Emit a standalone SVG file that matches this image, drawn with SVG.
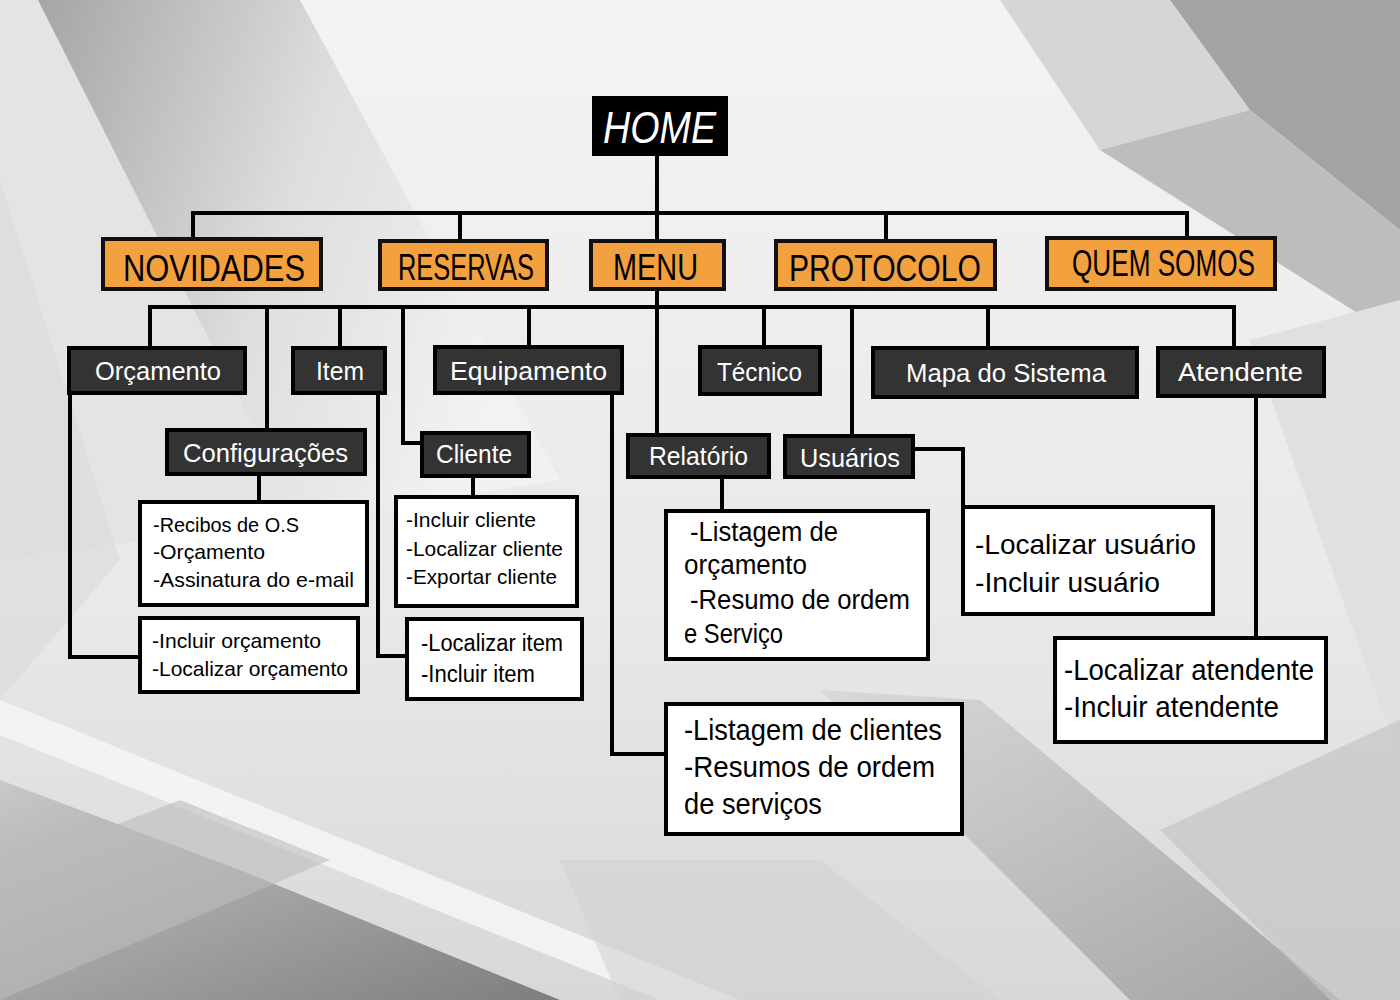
<svg xmlns="http://www.w3.org/2000/svg" width="1400" height="1000" viewBox="0 0 1400 1000">
<defs>
<linearGradient id="bg" x1="0" y1="0" x2="0" y2="1">
<stop offset="0" stop-color="#f3f3f3"/>
<stop offset="0.6" stop-color="#e9e9e9"/>
<stop offset="1" stop-color="#d8d8d8"/>
</linearGradient>
<linearGradient id="tlband" x1="0" y1="0" x2="1" y2="0.35">
<stop offset="0" stop-color="#9c9c9c"/>
<stop offset="0.55" stop-color="#dcdcdc"/>
<stop offset="1" stop-color="#f2f2f2"/>
</linearGradient>
<linearGradient id="blband" x1="0" y1="0" x2="1" y2="1">
<stop offset="0" stop-color="#c4c4c4"/>
<stop offset="1" stop-color="#6e6e6e"/>
</linearGradient>
<linearGradient id="brband" x1="0" y1="0" x2="1" y2="1">
<stop offset="0" stop-color="#d4d4d4"/>
<stop offset="1" stop-color="#8e8e8e"/>
</linearGradient>
<style>
.orange{fill:#f3a03f;stroke:#111;stroke-width:4}
.dark{fill:#333333;stroke:#000;stroke-width:4}
.white{fill:#ffffff;stroke:#000;stroke-width:4}
.home{fill:#000;stroke:#000;stroke-width:2}
.tO{font-family:"Liberation Sans Narrow","Liberation Sans",Arial,sans-serif;font-size:36px;fill:#000}
.tD{font-family:"Liberation Sans",Arial,sans-serif;font-size:26px;fill:#fff}
.tW{font-family:"Liberation Sans",Arial,sans-serif;fill:#000}
.tH{font-family:"Liberation Sans",Arial,sans-serif;font-size:44px;font-style:italic;fill:#fff}
.ln{fill:none;stroke:#000;stroke-width:4;stroke-linejoin:miter;stroke-linecap:square}
</style>
</defs>
<g id="background">
<rect x="0" y="0" width="1400" height="1000" fill="url(#bg)"/>
<polygon points="0,0 38,0 300,520 0,560" fill="#e4e4e4"/>
<polygon points="38,0 300,0 560,480 300,520" fill="url(#tlband)" opacity="0.9"/>
<polygon points="0,180 120,560 0,700" fill="#dcdcdc" opacity="0.7"/>
<polygon points="1000,0 1170,0 1250,110 1100,150" fill="#d6d6d6"/>
<polygon points="1170,0 1400,0 1400,230 1250,110" fill="#a3a3a3"/>
<polygon points="1100,150 1250,110 1400,230 1400,340" fill="#bdbdbd"/>
<polygon points="1250,340 1400,300 1400,760" fill="#e0e0e0"/>
<polygon points="0,780 240,870 560,1000 0,1000" fill="url(#blband)" opacity="0.85"/>
<polygon points="0,700 0,735 660,1000 740,1000" fill="#f6f6f6" opacity="0.85"/>
<polygon points="0,870 180,800 330,860 0,1000" fill="#bcbcbc" opacity="0.6"/>
<polygon points="820,690 980,700 1340,1000 1130,1000" fill="url(#brband)" opacity="0.7"/>
<polygon points="1160,830 1400,720 1400,1000 1330,1000" fill="#c4c4c4" opacity="0.7"/>
<polygon points="560,860 820,860 1000,1000 620,1000" fill="#d2d2d2" opacity="0.6"/>
</g>
<g id="connectors">
<line class="ln" x1="657" y1="155" x2="657" y2="435"/>
<polyline class="ln" points="193,239 193,213 1187,213 1187,238"/>
<line class="ln" x1="460" y1="213" x2="460" y2="241"/>
<line class="ln" x1="886" y1="213" x2="886" y2="241"/>
<polyline class="ln" points="150,348 150,307 1234,307 1234,348"/>
<line class="ln" x1="267" y1="307" x2="267" y2="430"/>
<line class="ln" x1="340" y1="307" x2="340" y2="348"/>
<polyline class="ln" points="403,307 403,443 422,443"/>
<line class="ln" x1="529" y1="307" x2="529" y2="347"/>
<line class="ln" x1="764" y1="307" x2="764" y2="347"/>
<line class="ln" x1="852" y1="307" x2="852" y2="436"/>
<line class="ln" x1="988" y1="307" x2="988" y2="348"/>
<polyline class="ln" points="70,393 70,657 140,657"/>
<line class="ln" x1="259" y1="474" x2="259" y2="502"/>
<polyline class="ln" points="378,393 378,656 407,656"/>
<line class="ln" x1="473" y1="476" x2="473" y2="497"/>
<polyline class="ln" points="612,393 612,754 666,754"/>
<line class="ln" x1="722" y1="477" x2="722" y2="511"/>
<polyline class="ln" points="913,449 963,449 963,507"/>
<line class="ln" x1="1256" y1="396" x2="1256" y2="638"/>
</g>
<g id="home">
<rect class="home" x="593" y="97" width="134" height="58"/>
<text class="tH" x="603" y="143" textLength="113" lengthAdjust="spacingAndGlyphs">HOME</text>
</g>
<g id="novidades">
<rect class="orange" x="103" y="239" width="218" height="50"/>
<text class="tO" x="123" y="281" textLength="182" lengthAdjust="spacingAndGlyphs">NOVIDADES</text>
</g>
<g id="reservas">
<rect class="orange" x="380" y="241" width="167" height="48"/>
<text class="tO" x="398" y="280" textLength="136" lengthAdjust="spacingAndGlyphs">RESERVAS</text>
</g>
<g id="menu">
<rect class="orange" x="591" y="241" width="133" height="48"/>
<text class="tO" x="613" y="280" textLength="85" lengthAdjust="spacingAndGlyphs">MENU</text>
</g>
<g id="protocolo">
<rect class="orange" x="776" y="241" width="219" height="48"/>
<text class="tO" x="789" y="281" textLength="192" lengthAdjust="spacingAndGlyphs">PROTOCOLO</text>
</g>
<g id="quem-somos">
<rect class="orange" x="1047" y="238" width="228" height="51"/>
<text class="tO" x="1072" y="276" font-size="33" textLength="183" lengthAdjust="spacingAndGlyphs">QUEM SOMOS</text>
</g>
<g id="orcamento">
<rect class="dark" x="69" y="348" width="176" height="45"/>
<text class="tD" x="95" y="380" textLength="126" lengthAdjust="spacingAndGlyphs">Orçamento</text>
</g>
<g id="item">
<rect class="dark" x="293" y="348" width="92" height="45"/>
<text class="tD" x="316" y="380" textLength="48" lengthAdjust="spacingAndGlyphs">Item</text>
</g>
<g id="equipamento">
<rect class="dark" x="435" y="347" width="187" height="46"/>
<text class="tD" x="450" y="380" textLength="157" lengthAdjust="spacingAndGlyphs">Equipamento</text>
</g>
<g id="tecnico">
<rect class="dark" x="700" y="347" width="120" height="47"/>
<text class="tD" x="717" y="381" textLength="85" lengthAdjust="spacingAndGlyphs">Técnico</text>
</g>
<g id="mapa">
<rect class="dark" x="873" y="348" width="264" height="49"/>
<text class="tD" x="906" y="382" textLength="200" lengthAdjust="spacingAndGlyphs">Mapa do Sistema</text>
</g>
<g id="atendente">
<rect class="dark" x="1158" y="348" width="166" height="48"/>
<text class="tD" x="1178" y="381" textLength="125" lengthAdjust="spacingAndGlyphs">Atendente</text>
</g>
<g id="configuracoes">
<rect class="dark" x="167" y="430" width="198" height="44"/>
<text class="tD" x="183" y="462" textLength="165" lengthAdjust="spacingAndGlyphs">Configurações</text>
</g>
<g id="cliente">
<rect class="dark" x="422" y="433" width="107" height="43"/>
<text class="tD" x="436" y="463" textLength="76" lengthAdjust="spacingAndGlyphs">Cliente</text>
</g>
<g id="relatorio">
<rect class="dark" x="628" y="435" width="141" height="42"/>
<text class="tD" x="649" y="465" textLength="99" lengthAdjust="spacingAndGlyphs">Relatório</text>
</g>
<g id="usuarios">
<rect class="dark" x="785" y="436" width="128" height="41"/>
<text class="tD" x="800" y="467" textLength="100" lengthAdjust="spacingAndGlyphs">Usuários</text>
</g>
<g id="config-list">
<rect class="white" x="140" y="502" width="227" height="103"/>
<text class="tW" font-size="21"><tspan x="153" y="532" textLength="146" lengthAdjust="spacingAndGlyphs">-Recibos de O.S</tspan><tspan x="153" y="559" textLength="112" lengthAdjust="spacingAndGlyphs">-Orçamento</tspan><tspan x="153" y="587" textLength="201" lengthAdjust="spacingAndGlyphs">-Assinatura do e-mail</tspan></text>
</g>
<g id="orcamento-list">
<rect class="white" x="140" y="618" width="218" height="74"/>
<text class="tW" font-size="21"><tspan x="152" y="648" textLength="169" lengthAdjust="spacingAndGlyphs">-Incluir orçamento</tspan><tspan x="152" y="676" textLength="196" lengthAdjust="spacingAndGlyphs">-Localizar orçamento</tspan></text>
</g>
<g id="cliente-list">
<rect class="white" x="396" y="497" width="181" height="109"/>
<text class="tW" font-size="21"><tspan x="406" y="527" textLength="130" lengthAdjust="spacingAndGlyphs">-Incluir cliente</tspan><tspan x="406" y="556" textLength="157" lengthAdjust="spacingAndGlyphs">-Localizar cliente</tspan><tspan x="406" y="584" textLength="151" lengthAdjust="spacingAndGlyphs">-Exportar cliente</tspan></text>
</g>
<g id="item-list">
<rect class="white" x="407" y="619" width="175" height="80"/>
<text class="tW" font-size="23"><tspan x="421" y="651" textLength="142" lengthAdjust="spacingAndGlyphs">-Localizar item</tspan><tspan x="421" y="682" textLength="114" lengthAdjust="spacingAndGlyphs">-Incluir item</tspan></text>
</g>
<g id="relatorio-list">
<rect class="white" x="666" y="511" width="262" height="148"/>
<text class="tW" font-size="27"><tspan x="690" y="541" textLength="148" lengthAdjust="spacingAndGlyphs">-Listagem de</tspan><tspan x="684" y="574" textLength="123" lengthAdjust="spacingAndGlyphs">orçamento</tspan><tspan x="690" y="609" textLength="220" lengthAdjust="spacingAndGlyphs">-Resumo de ordem</tspan><tspan x="684" y="643" textLength="99" lengthAdjust="spacingAndGlyphs">e Serviço</tspan></text>
</g>
<g id="usuarios-list">
<rect class="white" x="963" y="507" width="250" height="107"/>
<text class="tW" font-size="28"><tspan x="975" y="554" textLength="221" lengthAdjust="spacingAndGlyphs">-Localizar usuário</tspan><tspan x="975" y="592" textLength="185" lengthAdjust="spacingAndGlyphs">-Incluir usuário</tspan></text>
</g>
<g id="equipamento-list">
<rect class="white" x="666" y="704" width="296" height="130"/>
<text class="tW" font-size="29"><tspan x="684" y="740" textLength="258" lengthAdjust="spacingAndGlyphs">-Listagem de clientes</tspan><tspan x="684" y="777" textLength="251" lengthAdjust="spacingAndGlyphs">-Resumos de ordem</tspan><tspan x="684" y="814" textLength="138" lengthAdjust="spacingAndGlyphs">de serviços</tspan></text>
</g>
<g id="atendente-list">
<rect class="white" x="1055" y="638" width="271" height="104"/>
<text class="tW" font-size="29"><tspan x="1064" y="680" textLength="250" lengthAdjust="spacingAndGlyphs">-Localizar atendente</tspan><tspan x="1064" y="717" textLength="215" lengthAdjust="spacingAndGlyphs">-Incluir atendente</tspan></text>
</g>
</svg>
